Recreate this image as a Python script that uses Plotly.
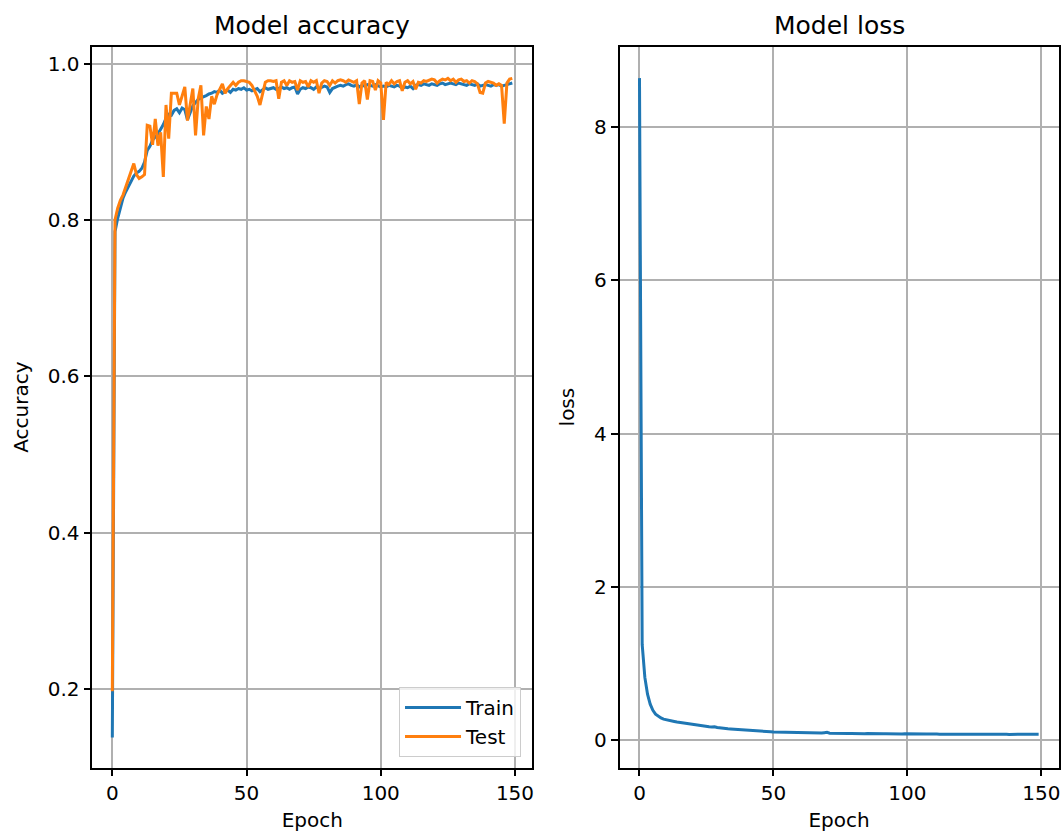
import plotly.graph_objects as go

EPOCHS = list(range(150))

TRAIN_ACC = [
    0.138, 0.785, 0.802, 0.815, 0.828, 0.836, 0.843, 0.849, 0.856, 0.860,
    0.862, 0.866, 0.874, 0.889, 0.894, 0.902, 0.906, 0.910, 0.916, 0.922,
    0.930, 0.935, 0.934, 0.940, 0.942, 0.937, 0.943, 0.941, 0.928, 0.937,
    0.946, 0.950, 0.954, 0.956, 0.957, 0.959, 0.961, 0.962, 0.964, 0.963,
    0.966, 0.962, 0.964, 0.966, 0.963, 0.967, 0.966, 0.968, 0.967, 0.969,
    0.966, 0.967, 0.965, 0.966, 0.968, 0.964, 0.966, 0.969, 0.967, 0.968,
    0.969, 0.967, 0.968, 0.970, 0.968, 0.969, 0.967, 0.969, 0.970, 0.961,
    0.967, 0.969, 0.968, 0.970, 0.969, 0.967, 0.970, 0.968, 0.969, 0.971,
    0.970, 0.963, 0.968, 0.970, 0.971, 0.972, 0.971, 0.973, 0.974, 0.972,
    0.971, 0.973, 0.970, 0.972, 0.971, 0.973, 0.972, 0.971, 0.973, 0.972,
    0.970, 0.971, 0.970, 0.972, 0.971, 0.970, 0.972, 0.971, 0.968, 0.970,
    0.969, 0.971, 0.968, 0.972, 0.973, 0.972, 0.974, 0.973, 0.972, 0.974,
    0.973, 0.972, 0.974, 0.975, 0.973, 0.974, 0.975, 0.974, 0.973, 0.975,
    0.974, 0.973, 0.972, 0.974, 0.973, 0.972, 0.974, 0.971, 0.972, 0.973,
    0.972, 0.971, 0.973, 0.972, 0.973, 0.971, 0.972, 0.973, 0.974, 0.975,
]

TEST_ACC = [
    0.197, 0.800, 0.815, 0.825, 0.832, 0.842, 0.850, 0.860, 0.872, 0.858,
    0.853, 0.855, 0.858, 0.921, 0.920, 0.896, 0.929, 0.895, 0.912, 0.855,
    0.947, 0.904, 0.962, 0.962, 0.962, 0.947, 0.960, 0.970, 0.927, 0.950,
    0.968, 0.908, 0.955, 0.972, 0.908, 0.945, 0.929, 0.958, 0.948, 0.960,
    0.968, 0.974, 0.962, 0.968, 0.972, 0.976, 0.972, 0.976, 0.978, 0.978,
    0.977, 0.976, 0.972, 0.965, 0.958, 0.947, 0.962, 0.976, 0.978, 0.978,
    0.977, 0.978, 0.955, 0.976, 0.978, 0.972, 0.978, 0.976, 0.977, 0.966,
    0.978, 0.976, 0.977, 0.970, 0.978, 0.976, 0.978, 0.962, 0.975, 0.978,
    0.977, 0.972, 0.978, 0.975, 0.978, 0.979, 0.978, 0.976, 0.979, 0.977,
    0.976, 0.978, 0.948, 0.975, 0.978, 0.954, 0.978, 0.977, 0.966, 0.978,
    0.975, 0.928, 0.976, 0.973, 0.978, 0.974, 0.977, 0.978, 0.965, 0.976,
    0.978, 0.974, 0.977, 0.967, 0.976, 0.975, 0.978, 0.977, 0.979, 0.980,
    0.979, 0.975, 0.978, 0.980, 0.979, 0.981, 0.978, 0.980, 0.976, 0.979,
    0.980, 0.977, 0.978, 0.975, 0.978, 0.977, 0.974, 0.963, 0.962, 0.975,
    0.977, 0.976, 0.975, 0.972, 0.974, 0.972, 0.923, 0.975, 0.980, 0.981,
]

LOSS = [
    8.64, 1.25, 0.82, 0.60, 0.47, 0.39, 0.34, 0.31, 0.29, 0.275,
    0.265, 0.258, 0.250, 0.245, 0.238, 0.232, 0.226, 0.221, 0.214, 0.208,
    0.203, 0.198, 0.192, 0.188, 0.184, 0.179, 0.175, 0.171, 0.176, 0.166,
    0.160, 0.156, 0.152, 0.149, 0.146, 0.143, 0.140, 0.137, 0.134, 0.131,
    0.129, 0.126, 0.124, 0.121, 0.119, 0.117, 0.115, 0.113, 0.111, 0.110,
    0.108, 0.107, 0.105, 0.106, 0.103, 0.102, 0.101, 0.100, 0.099, 0.100,
    0.097, 0.096, 0.098, 0.095, 0.094, 0.093, 0.095, 0.092, 0.093, 0.098,
    0.103, 0.092, 0.090, 0.091, 0.089, 0.090, 0.088, 0.089, 0.087, 0.088,
    0.086, 0.087, 0.090, 0.088, 0.086, 0.087, 0.085, 0.086, 0.084, 0.085,
    0.086, 0.084, 0.085, 0.083, 0.088, 0.084, 0.083, 0.085, 0.082, 0.083,
    0.084, 0.082, 0.083, 0.081, 0.082, 0.083, 0.081, 0.082, 0.080, 0.083,
    0.081, 0.080, 0.079, 0.081, 0.084, 0.080, 0.079, 0.078, 0.079, 0.077,
    0.078, 0.079, 0.077, 0.078, 0.077, 0.079, 0.078, 0.077, 0.078, 0.076,
    0.077, 0.078, 0.076, 0.077, 0.078, 0.076, 0.077, 0.078, 0.076, 0.077,
    0.079, 0.077, 0.078, 0.076, 0.080, 0.082, 0.079, 0.078, 0.080, 0.079,
]

X_TICKS = [0, 50, 100, 150]
ACC_TICKS = [0.2, 0.4, 0.6, 0.8, 1.0]
LOSS_TICKS = [0, 2, 4, 6, 8]

BLUE = "#1f77b4"
ORANGE = "#ff7f0e"
FONT = "DejaVu Sans"
GRID = "#b0b0b0"

W, H = 1064, 832

fig = go.Figure()
fig.add_trace(go.Scatter(x=EPOCHS, y=TRAIN_ACC, mode="lines", name="Train",
                         line=dict(color=BLUE, width=3), xaxis="x", yaxis="y"))
fig.add_trace(go.Scatter(x=EPOCHS, y=TEST_ACC, mode="lines", name="Test",
                         line=dict(color=ORANGE, width=3), xaxis="x", yaxis="y"))
fig.add_trace(go.Scatter(x=EPOCHS, y=LOSS, mode="lines", name="loss",
                         line=dict(color=BLUE, width=3), xaxis="x2", yaxis="y2",
                         showlegend=False))

axis_common = dict(
    showline=True, linecolor="black", linewidth=1.6, mirror=True,
    ticks="outside", ticklen=7, tickwidth=1.6, tickcolor="black",
    showgrid=True, gridcolor=GRID, gridwidth=1.6, zeroline=False,
    tickfont=dict(family=FONT, size=20, color="black"),
)

x1_dom = [92.5 / W, 533.3 / W]
x2_dom = [620.7 / W, 1060.6 / W]
y_dom = [1 - 767.5 / H, 1 - 46.7 / H]

fig.update_layout(
    width=W, height=H,
    margin=dict(l=0, r=0, t=0, b=0),
    paper_bgcolor="white", plot_bgcolor="white",
    font=dict(family=FONT, size=20, color="black"),
    xaxis=dict(domain=x1_dom, range=[-7.45, 156.45], tickvals=X_TICKS,
               title=dict(text="Epoch", standoff=10, font=dict(size=20)),
               anchor="y", **axis_common),
    yaxis=dict(domain=y_dom, range=[0.0995, 1.0215], tickvals=ACC_TICKS,
               tickformat=".1f",
               title=dict(text="Accuracy", standoff=14, font=dict(size=20)),
               anchor="x", **axis_common),
    xaxis2=dict(domain=x2_dom, range=[-7.45, 156.45], tickvals=X_TICKS,
                title=dict(text="Epoch", standoff=10, font=dict(size=20)),
                anchor="y2", **axis_common),
    yaxis2=dict(domain=y_dom, range=[-0.356, 9.05], tickvals=LOSS_TICKS,
                title=dict(text="loss", standoff=14, font=dict(size=20)),
                anchor="x2", **axis_common),
    legend=dict(x=522 / W, y=1 - 757 / H, xanchor="right", yanchor="bottom",
                bgcolor="rgba(255,255,255,0.8)", bordercolor="#cccccc",
                borderwidth=1, itemwidth=56, tracegroupgap=0,
                font=dict(family=FONT, size=20, color="black")),
    showlegend=True,
    annotations=[
        dict(text="Model accuracy", x=sum(x1_dom) / 2, y=y_dom[1],
             xref="paper", yref="paper", xanchor="center", yanchor="bottom",
             yshift=5, showarrow=False,
             font=dict(family=FONT, size=25, color="black")),
        dict(text="Model loss", x=sum(x2_dom) / 2, y=y_dom[1],
             xref="paper", yref="paper", xanchor="center", yanchor="bottom",
             yshift=5, showarrow=False,
             font=dict(family=FONT, size=25, color="black")),
    ],
)

fig.write_html("out.html",
               config={"displayModeBar": False},
               post_script="document.body.style.margin='0';"
                           "document.body.style.padding='0';"
                           "document.body.style.overflow='hidden';")
